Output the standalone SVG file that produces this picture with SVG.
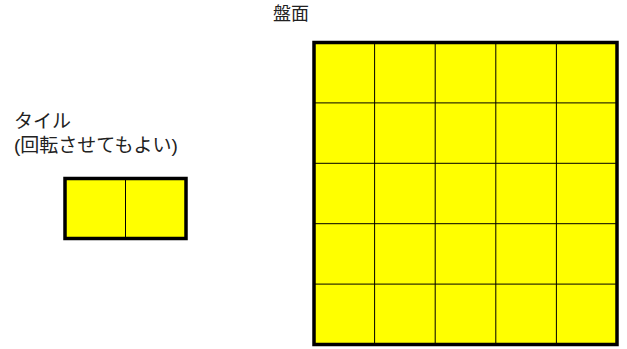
<svg xmlns="http://www.w3.org/2000/svg" width="627" height="349" viewBox="0 0 627 349">
<style>
.lbl{font-family:"Liberation Sans","Noto Sans CJK JP",sans-serif;fill:#222;}
.outer{fill:#ffff00;stroke:#000;stroke-width:3.5;}
.grid{stroke:#000;stroke-width:1;fill:none;}
</style>
<rect width="627" height="349" fill="#fff"/>
<g id="tile">
<text class="lbl" x="14" y="128" font-size="19">タイル</text>
<text class="lbl" x="14" y="152" font-size="19">(回転させてもよい)</text>
<rect class="outer" x="65" y="178.5" width="121" height="60"/>
<line class="grid" x1="125.5" y1="178.5" x2="125.5" y2="238.5"/>
</g>
<g id="board">
<text class="lbl" x="273" y="20" font-size="18">盤面</text>
<rect class="outer" x="314" y="42.5" width="303" height="302"/>
<g class="grid">
<line x1="374.6" y1="42.5" x2="374.6" y2="344.5"/>
<line x1="435.2" y1="42.5" x2="435.2" y2="344.5"/>
<line x1="495.8" y1="42.5" x2="495.8" y2="344.5"/>
<line x1="556.4" y1="42.5" x2="556.4" y2="344.5"/>
<line x1="314" y1="102.9" x2="617" y2="102.9"/>
<line x1="314" y1="163.3" x2="617" y2="163.3"/>
<line x1="314" y1="223.7" x2="617" y2="223.7"/>
<line x1="314" y1="284.1" x2="617" y2="284.1"/>
</g>
</g>
</svg>
